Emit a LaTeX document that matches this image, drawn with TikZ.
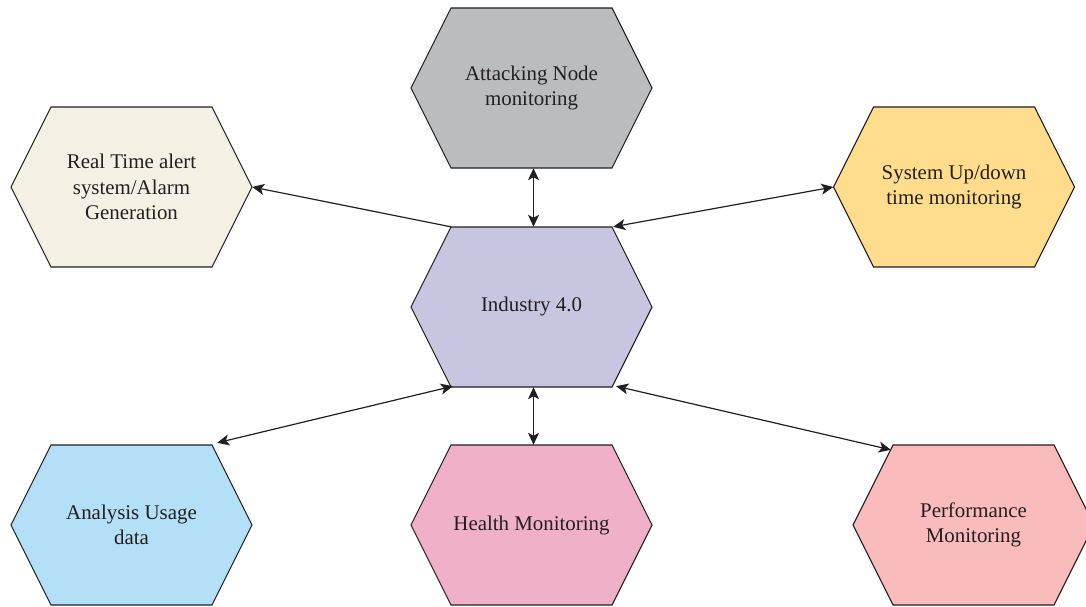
\documentclass[tikz,border=0pt]{standalone}
\usepackage{fontspec}
\setmainfont{Liberation Serif}
\usetikzlibrary{arrows.meta}
\definecolor{hgray}{HTML}{BBBCBE}
\definecolor{hcream}{HTML}{F4F0E4}
\definecolor{hyellow}{HTML}{FFDD8D}
\definecolor{hviolet}{HTML}{C7C5E0}
\definecolor{hblue}{HTML}{B3E0F7}
\definecolor{hpink}{HTML}{F1B0C9}
\definecolor{hsalmon}{HTML}{F9BBBC}
\definecolor{inkc}{HTML}{231F20}
\tikzset{
  hexlabel/.style={minimum width=241pt,minimum height=160pt,inner sep=0pt,align=center,
    font=\fontsize{20.9}{25.6}\selectfont,text=inkc},
  hexline/.style={draw=inkc,line width=1.1pt,line join=miter},
  link/.style={draw=inkc,line width=1.2pt,{Stealth[length=12pt,width=11pt,inset=3pt]}-{Stealth[length=12pt,width=11pt,inset=3pt]}},
  linkone/.style={draw=inkc,line width=1.2pt,{Stealth[length=12pt,width=11pt,inset=3pt]}-},
}
\newcommand{\hexnode}[5]{%
  \fill[#4] (#2-120.5,#3) -- (#2-80.5,#3-80) -- (#2+80.5,#3-80) -- (#2+120.5,#3) -- (#2+80.5,#3+80) -- (#2-80.5,#3+80) -- cycle;
  \draw[hexline] (#2-120.5,#3) -- (#2-80.5,#3-80) -- (#2+80.5,#3-80) -- (#2+120.5,#3) -- (#2+80.5,#3+80) -- (#2-80.5,#3+80) -- cycle;
  \node[hexlabel] (#1) at (#2,#3) {#5};
}
\begin{document}
\begin{tikzpicture}[x=1pt,y=-1pt]
\useasboundingbox (0,0) rectangle (1086,607);
\clip (0,0) rectangle (1086,607);
\hexnode{top}{531.5}{88}{hgray}{Attacking Node\\monitoring}
\hexnode{alert}{131.5}{187}{hcream}{Real Time alert\\system/Alarm\\Generation}
\hexnode{updown}{954}{187}{hyellow}{System Up/down\\time monitoring}
\hexnode{core}{531.5}{307}{hviolet}{Industry 4.0}
\hexnode{usage}{131.5}{525}{hblue}{Analysis Usage\\data}
\hexnode{health}{531.5}{525}{hpink}{Health Monitoring}
\hexnode{perf}{973.5}{525}{hsalmon}{Performance\\Monitoring}
\coordinate (c1) at ([xshift=40pt]core.north west);
\coordinate (c2) at ([xshift=-39pt]core.north east);
\coordinate (c3) at ([xshift=42pt,yshift=1pt]core.south west);
\coordinate (c4) at ([xshift=-36pt,yshift=1pt]core.south east);
\coordinate (b1) at ([xshift=-35pt,yshift=2pt]usage.north east);
\coordinate (p1) at ([xshift=38pt,yshift=-5pt]perf.north west);
\draw[link] ([xshift=2pt]top.south) -- ([xshift=2pt]core.north);
\draw[link] ([xshift=2pt]core.south) -- ([xshift=2pt]health.north);
\draw[linkone] (alert.east) -- (c1);
\draw[link] (c2) -- (updown.west);
\draw[link] (c3) -- (b1);
\draw[link] (c4) -- (p1);
\end{tikzpicture}
\end{document}
